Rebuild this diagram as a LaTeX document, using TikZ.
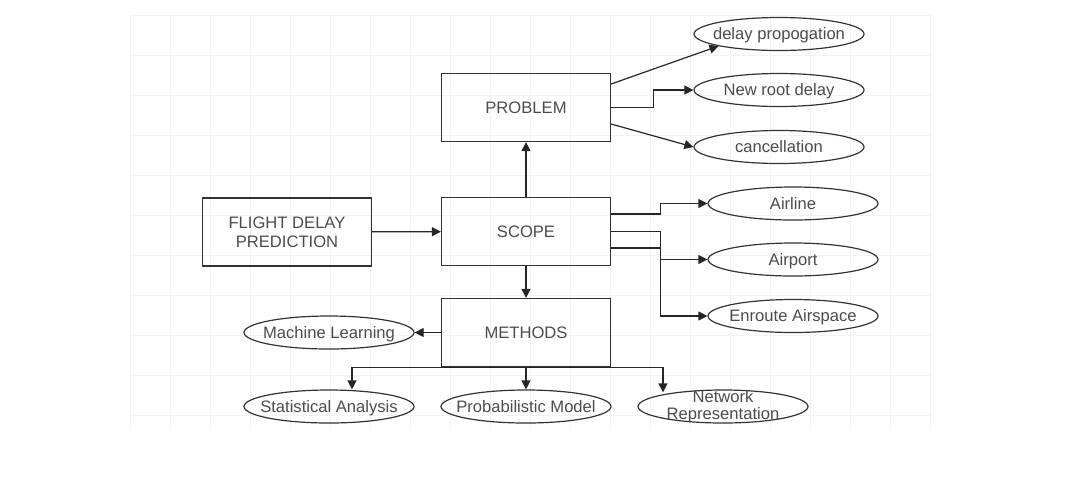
\documentclass[tikz,border=0pt]{standalone}
\usepackage{fontspec}
\setmainfont{Liberation Sans}
\usetikzlibrary{shapes.geometric,arrows.meta}

\tikzset{
  box/.style={draw=black!80, line width=0.6pt, minimum width=84.5pt, minimum height=34pt, align=center, text=black!70},
  oval/.style={ellipse, draw=black!80, line width=0.6pt, minimum width=85pt, minimum height=16.5pt, inner xsep=-20pt, inner ysep=0pt, text height=7.4pt, text depth=1.8pt, text=black!70},
  arr/.style={-{Triangle[length=4.5pt,width=4.5pt]}, draw=black!85, line width=0.6pt},
  gridline/.style={black!5, line width=0.4pt}
}

\begin{document}
\begin{tikzpicture}[x=0.5pt, y=-0.5pt, font=\fontsize{8.3}{9.5}\selectfont]
	\useasboundingbox (0,0) rectangle (1079,488);
	
	% faint background grid
	\foreach \gx in {130,170,...,930} \draw[gridline] (\gx,15) -- (\gx,430);
	\foreach \gy in {15,55,...,430} \draw[gridline] (130,\gy) -- (930,\gy);
	
	\node[box] (fdp) at (287,232) {FLIGHT DELAY\\PREDICTION};
	\node[box] (prob) at (526,107.5) {PROBLEM};
	\node[box] (scope) at (526,231.5) {SCOPE};
	\node[box] (meth) at (526,332.5) {METHODS};
	
	\node[oval] (dprop) at (779,34) {delay propogation};
	\node[oval] (nroot) at (779,90) {New root delay};
	\node[oval] (canc) at (779,147) {cancellation};
	
	\node[oval] (airl) at (793,203.5) {Airline};
	\node[oval] (airp) at (793,259.5) {Airport};
	\node[oval] (enr) at (793,316) {Enroute Airspace};
	
	\node[oval] (ml) at (329,332.5) {Machine Learning};
	\node[oval] (stat) at (329,406.5) {Statistical Analysis};
	\node[oval] (pmod) at (526,406.5) {Probabilistic Model};
	\node[oval, align=center, inner ysep=-4pt, text height=14.5pt, text depth=2pt, font=\fontsize{8.3}{8.5}\selectfont] (netw) at (723,406.5) {Network\\Representation};
	
	\draw[arr] (fdp) -- (scope);
	\draw[arr] (scope) -- (prob);
	\draw[arr] (scope) -- (meth);
	
	\draw[arr] ([yshift=11.75pt]prob.east) -- (dprop.south west);
	\draw[arr] (prob.east) -- ++(42,0) |- (nroot.west);
	\draw[arr] ([yshift=-8.25pt]prob.east) -- (canc.west);
	
	\draw[arr] ([yshift=8.75pt]scope.east) -- ++(49,0) |- (airl.west);
	\draw[arr] (scope.east) -- ++(49,0) |- (airp.west);
	\draw[arr] ([yshift=-8.25pt]scope.east) -- ++(49,0) |- (enr.west);
	
	\draw[arr] (meth.west) -- (ml.east);
	\draw[arr] (meth.south) -| ([xshift=11.5pt]stat.north);
	\draw[arr] (meth) -- (pmod);
	\draw[arr] (meth.south) -| ([xshift=-30pt,yshift=-1.5pt]netw.north);
	
\end{tikzpicture}
\end{document}
